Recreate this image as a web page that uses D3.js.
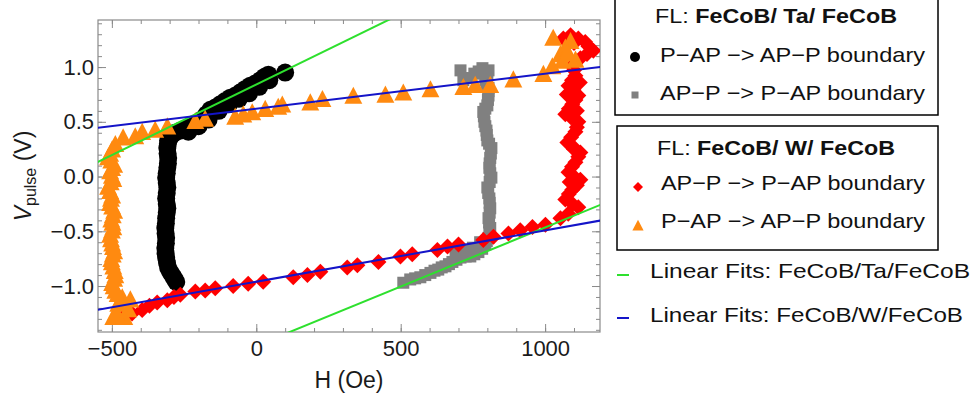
<!DOCTYPE html>
<html>
<head>
<meta charset="utf-8">
<script src="https://cdn.jsdelivr.net/npm/d3@7"></script>
<style>
  html, body { margin: 0; padding: 0; background: #fff; }
  svg { display: block; font-family: Arial, "Liberation Sans", sans-serif; }
</style>
</head>
<body>
<svg id="chart" width="978" height="403"></svg>
<script>
// ---------- DATA ----------
const xDomain = [-548, 1190];
const yDomain = [-1.42, 1.43];
const xMajorTicks = [-500, 0, 500, 1000];
const yMajorTicks = [-1.0, -0.5, 0.0, 0.5, 1.0];

// FeCoB/Ta/FeCoB : P-AP -> AP-P boundary (black circles) [H (Oe), V]
const taPAPtoAPP = [
  [-277,-0.963],[-284,-0.93],[-291,-0.90],[-298,-0.87],[-305,-0.835],[-309,-0.79],[-312,-0.744],
  [-314,-0.70],[-315,-0.652],[-313,-0.61],[-312,-0.56],[-314,-0.52],[-315,-0.47],[-313,-0.43],
  [-312,-0.38],[-310,-0.33],[-308,-0.29],[-310,-0.25],[-312,-0.20],[-310,-0.15],[-308,-0.10],
  [-310,-0.06],[-312,-0.01],[-310,0.03],[-308,0.08],[-306,0.12],[-305,0.17],[-307,0.21],
  [-308,0.26],[-306,0.30],[-305,0.33],[-295,0.37],[-281,0.40],[-262,0.42],[-246,0.44],
  [-230,0.45],[-211,0.48],[-198,0.50],[-184,0.53],[-172,0.57],[-159,0.61],[-142,0.63],
  [-125,0.66],[-108,0.69],[-90,0.72],[-72,0.74],[-55,0.77],[-38,0.80],[-21,0.83],
  [-4,0.85],[14,0.88],[28,0.91],[42,0.93],[100,0.95],
  [-235,0.41],[-200,0.46],[-165,0.52],[-130,0.60],[-95,0.66],[-60,0.71],[-25,0.76],[10,0.82],[45,0.88]
];
// FeCoB/Ta/FeCoB : AP-P -> P-AP boundary (gray squares)
const taAPPtoPAP = [
  [509,-0.97],[533,-0.94],[550,-0.93],[568,-0.92],[585,-0.90],[603,-0.88],[617,-0.86],[630,-0.85],
  [642,-0.83],[655,-0.82],[667,-0.80],[679,-0.78],[693,-0.76],[707,-0.74],[725,-0.73],[741,-0.73],
  [755,-0.71],[769,-0.69],[782,-0.66],[793,-0.62],[798,-0.59],[804,-0.56],[807,-0.51],[810,-0.47],
  [806,-0.42],[804,-0.38],[808,-0.33],[810,-0.29],[808,-0.24],[807,-0.20],[803,-0.15],[800,-0.10],
  [808,-0.05],[814,-0.01],[810,0.03],[807,0.08],[808,0.12],[810,0.17],[812,0.21],[814,0.26],
  [806,0.30],[800,0.33],[798,0.38],[797,0.42],[793,0.46],[790,0.50],[788,0.55],[786,0.59],
  [793,0.62],[800,0.65],[802,0.70],[804,0.74],[804,0.78],[804,0.81],[798,0.85],[793,0.88],
  [800,0.93],[804,0.97],[783,0.99],[770,0.96],[755,0.94],[735,0.90],[717,0.88],[707,0.97],
  [690,-0.70],[720,-0.68],[750,-0.65],[775,-0.60]
];
// FeCoB/W/FeCoB : AP-P -> P-AP boundary (red diamonds)
const wAPPtoPAP = [
  [-461,-1.28],[-430,-1.25],[-395,-1.22],[-370,-1.18],[-343,-1.15],[-308,-1.13],[-285,-1.10],[-263,-1.08],
  [-211,-1.05],[-177,-1.04],[-142,-1.02],[-80,-1.00],[-28,-0.98],[24,-0.96],[128,-0.92],[177,-0.90],
  [222,-0.87],[315,-0.83],[350,-0.81],[423,-0.78],[499,-0.73],[540,-0.71],[627,-0.67],
  [662,-0.64],[700,-0.62],[786,-0.58],[821,-0.55],[873,-0.52],[914,-0.49],[956,-0.46],
  [1001,-0.44],[1053,-0.38],[1080,-0.34],[1115,-0.28],[1095,-0.25],[1070,-0.21],[1082,-0.16],
  [1094,-0.12],[1110,-0.08],[1122,-0.03],[1100,0.00],[1081,0.04],[1093,0.09],[1105,0.13],
  [1115,0.18],[1122,0.22],[1098,0.27],[1077,0.31],[1090,0.36],[1105,0.41],[1110,0.45],
  [1115,0.50],[1090,0.54],[1070,0.57],[1082,0.62],[1094,0.66],[1105,0.70],[1115,0.74],
  [1098,0.79],[1081,0.83],[1093,0.88],[1105,0.92],[1100,0.97],[1094,1.01],[1108,1.05],
  [1122,1.08],[1145,1.12],[1167,1.15],[1150,1.19],[1139,1.23],[1115,1.26],[1088,1.29],
  [1063,1.26],[1100,1.22],[1110,0.60],[1100,0.25],[1085,-0.05],[1075,0.75],[1120,0.86]
];
// FeCoB/W/FeCoB : P-AP -> AP-P boundary (orange triangles)
const wPAPtoAPP = [
  [-495,-1.29],[-457,-1.29],[-485,-1.25],[-443,-1.22],[-478,-1.17],[-436,-1.13],
  [-464,-1.11],[-480,-1.08],[-488,-1.05],[-494,-1.01],[-499,-0.98],[-492,-0.94],[-488,-0.91],
  [-490,-0.87],[-495,-0.83],[-500,-0.79],[-502,-0.76],[-497,-0.72],[-492,-0.69],[-496,-0.65],
  [-499,-0.62],[-503,-0.58],[-506,-0.54],[-500,-0.50],[-495,-0.47],[-498,-0.43],[-502,-0.40],
  [-497,-0.36],[-492,-0.32],[-499,-0.28],[-506,-0.25],[-503,-0.21],[-499,-0.18],[-506,-0.14],
  [-513,-0.10],[-504,-0.06],[-495,-0.03],[-500,0.00],[-506,0.04],[-499,0.07],[-492,0.10],
  [-502,0.14],[-513,0.17],[-506,0.20],[-499,0.24],[-488,0.29],[-461,0.35],[-419,0.36],
  [-395,0.40],[-350,0.42],[-308,0.45],[-211,0.50],[-177,0.52],[-73,0.54],[-45,0.56],
  [-14,0.58],[31,0.61],[76,0.63],[90,0.65],[187,0.67],[229,0.70],[336,0.73],[447,0.74],
  [509,0.76],[603,0.79],[717,0.81],[758,0.83],[810,0.83],[890,0.88],[994,0.93],[1025,1.00],
  [1053,1.11],[1070,1.17],[1028,1.26],[1088,1.23],[1105,1.06],[1060,1.05],[1078,1.12]
];
// Linear fits: [H1, V1, H2, V2]
const fitsTa = [[-600, 0.066, 1200, 2.388], [0, -1.545, 1200, -0.249]];
const fitsW  = [[-600, 0.429, 1200, 1.003], [-600, -1.242, 1200, -0.398]];

const legend1Title = ["FL: ", "FeCoB/ Ta/ FeCoB"];
const legend1Items = ["P\u2212AP \u2212> AP\u2212P boundary", "AP\u2212P \u2212> P\u2212AP boundary"];
const legend2Title = ["FL: ", "FeCoB/ W/ FeCoB"];
const legend2Items = ["AP\u2212P \u2212> P\u2212AP boundary", "P\u2212AP \u2212> AP\u2212P boundary"];
const fitLabels = ["Linear Fits: FeCoB/Ta/FeCoB", "Linear Fits: FeCoB/W/FeCoB"];

// ---------- CHART ----------
const svg = d3.select("#chart");
const L = 98, R = 600, T = 20, B = 332;
const x = d3.scaleLinear().domain(xDomain).range([L, R]);
const y = d3.scaleLinear().domain(yDomain).range([B, T]);

const cRed = "#ff0000", cOrange = "#ff8a10", cGray = "#808080", cGreen = "#2ee02e", cBlue = "#1414c8";
const frameColor = "#8a8a8a";

svg.append("defs").append("clipPath").attr("id", "plotclip")
  .append("rect").attr("x", L).attr("y", T).attr("width", R - L).attr("height", B - T);

const xMinor = d3.range(-500, 1200, 100);
const yMinor = d3.range(-14, 15).map(d => d / 10);

function styleAxis(g) {
  g.select(".domain").remove();
  g.selectAll(".tick line").attr("stroke", frameColor);
  g.selectAll("text").attr("fill", "#1a1a1a").attr("font-size", 22)
    .attr("font-family", 'Arial, "Liberation Sans", sans-serif');
}
svg.append("g").attr("transform", `translate(0,${B})`)
  .call(d3.axisBottom(x).tickValues(xMinor).tickSize(-4).tickFormat("")).call(styleAxis);
svg.append("g").attr("transform", `translate(0,${B})`)
  .call(d3.axisBottom(x).tickValues(xMajorTicks).tickSize(-8).tickPadding(8).tickFormat(d3.format("d"))).call(styleAxis);
svg.append("g").attr("transform", `translate(0,${T})`)
  .call(d3.axisTop(x).tickValues(xMinor).tickSize(-4).tickFormat("")).call(styleAxis);
svg.append("g").attr("transform", `translate(0,${T})`)
  .call(d3.axisTop(x).tickValues(xMajorTicks).tickSize(-8).tickFormat("")).call(styleAxis);
svg.append("g").attr("transform", `translate(${L},0)`)
  .call(d3.axisLeft(y).tickValues(yMinor).tickSize(-4).tickFormat("")).call(styleAxis);
svg.append("g").attr("transform", `translate(${L},0)`)
  .call(d3.axisLeft(y).tickValues(yMajorTicks).tickSize(-8).tickPadding(4).tickFormat(d3.format(".1f"))).call(styleAxis);
svg.append("g").attr("transform", `translate(${R},0)`)
  .call(d3.axisRight(y).tickValues(yMinor).tickSize(-4).tickFormat("")).call(styleAxis);
svg.append("g").attr("transform", `translate(${R},0)`)
  .call(d3.axisRight(y).tickValues(yMajorTicks).tickSize(-8).tickFormat("")).call(styleAxis);

svg.append("rect").attr("x", L).attr("y", T).attr("width", R - L).attr("height", B - T)
  .attr("fill", "none").attr("stroke", frameColor).attr("stroke-width", 1.2);

svg.append("text").attr("x", (L + R) / 2).attr("y", 388).attr("text-anchor", "middle")
  .attr("font-size", 23).attr("fill", "#1a1a1a").text("H (Oe)");
const yt = svg.append("text").attr("transform", "translate(31,176) rotate(-90)")
  .attr("text-anchor", "middle").attr("font-size", 23).attr("fill", "#1a1a1a");
yt.append("tspan").attr("font-style", "italic").text("V");
yt.append("tspan").attr("font-size", 16).attr("dy", 5).text("pulse");
yt.append("tspan").attr("dy", -5).text(" (V)");

const plot = svg.append("g").attr("clip-path", "url(#plotclip)");
const diamond = (s) => `M0,${-s}L${s},0L0,${s}L${-s},0Z`;
const triangle = (s) => `M0,${-s * 0.62}L${s * 0.56},${s * 0.45}L${-s * 0.56},${s * 0.45}Z`;

plot.append("g").selectAll("circle").data(taPAPtoAPP).join("circle")
  .attr("cx", d => x(d[0])).attr("cy", d => y(d[1])).attr("r", 9).attr("fill", "#000");
plot.append("g").selectAll("rect").data(taAPPtoPAP).join("rect")
  .attr("x", d => x(d[0]) - 6).attr("y", d => y(d[1]) - 6).attr("width", 12).attr("height", 12)
  .attr("fill", cGray);
plot.append("g").selectAll("path").data(wAPPtoPAP).join("path")
  .attr("transform", d => `translate(${x(d[0])},${y(d[1])})`).attr("d", diamond(8)).attr("fill", cRed);
plot.append("g").selectAll("path").data(wPAPtoAPP).join("path")
  .attr("transform", d => `translate(${x(d[0])},${y(d[1])})`).attr("d", triangle(16)).attr("fill", cOrange);

plot.append("g").selectAll("line").data(fitsTa).join("line")
  .attr("x1", d => x(d[0])).attr("y1", d => y(d[1])).attr("x2", d => x(d[2])).attr("y2", d => y(d[3]))
  .attr("stroke", cGreen).attr("stroke-width", 2);
plot.append("g").selectAll("line").data(fitsW).join("line")
  .attr("x1", d => x(d[0])).attr("y1", d => y(d[1])).attr("x2", d => x(d[2])).attr("y2", d => y(d[3]))
  .attr("stroke", cBlue).attr("stroke-width", 2);

// ---------- LEGENDS ----------
const lg = svg.append("g");
lg.append("rect").attr("x", 615).attr("y", -3).attr("width", 323).attr("height", 118)
  .attr("fill", "#fff").attr("stroke", "#000").attr("stroke-width", 1.5);
lg.append("rect").attr("x", 617).attr("y", 126).attr("width", 321).attr("height", 124)
  .attr("fill", "#fff").attr("stroke", "#000").attr("stroke-width", 1.5);

function title(parts, xx, yy, w) {
  const t = lg.append("text").attr("x", xx).attr("y", yy).attr("font-size", 21).attr("fill", "#111")
    .attr("textLength", w).attr("lengthAdjust", "spacingAndGlyphs");
  t.append("tspan").text(parts[0]);
  t.append("tspan").attr("font-weight", "bold").text(parts[1]);
}
function item(txt, xx, yy, w) {
  lg.append("text").attr("x", xx).attr("y", yy).attr("font-size", 21).attr("fill", "#111")
    .attr("textLength", w).attr("lengthAdjust", "spacingAndGlyphs").text(txt);
}
title(legend1Title, 655, 23, 242);
item(legend1Items[0], 660, 62, 265);
item(legend1Items[1], 660, 100, 265);
lg.append("circle").attr("cx", 635).attr("cy", 57).attr("r", 5).attr("fill", "#000");
lg.append("rect").attr("x", 631.5).attr("y", 91.5).attr("width", 7).attr("height", 7).attr("fill", cGray);

title(legend2Title, 657, 155, 238);
item(legend2Items[0], 661, 190, 264);
item(legend2Items[1], 661, 228, 264);
lg.append("path").attr("transform", "translate(638,187)").attr("d", diamond(5)).attr("fill", cRed);
lg.append("path").attr("transform", "translate(638,226)").attr("d", triangle(10)).attr("fill", cOrange);

lg.append("line").attr("x1", 617).attr("x2", 629).attr("y1", 275).attr("y2", 275).attr("stroke", cGreen).attr("stroke-width", 2);
lg.append("line").attr("x1", 617).attr("x2", 629).attr("y1", 318).attr("y2", 318).attr("stroke", cBlue).attr("stroke-width", 2);
item(fitLabels[0], 650, 278, 320);
item(fitLabels[1], 650, 322, 313);
</script>
</body>
</html>
